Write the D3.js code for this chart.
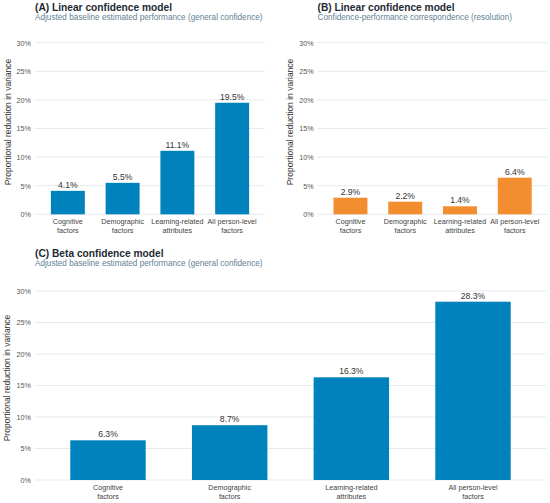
<!DOCTYPE html>
<html><head><meta charset="utf-8">
<script src="https://cdn.jsdelivr.net/npm/d3@7"></script>
<style>
body{margin:0;background:#fff;}
svg{display:block;font-family:"Liberation Sans",Arial,sans-serif;}
</style></head>
<body><svg id="c" width="550" height="503"></svg>
<script>
const categories = [["Cognitive","factors"],["Demographic","factors"],["Learning-related","attributes"],["All person-level","factors"]];
const valuesA = [0.041, 0.055, 0.111, 0.195];
const valuesB = [0.029, 0.022, 0.014, 0.064];
const valuesC = [0.063, 0.087, 0.163, 0.283];
const yTicks = [0, 0.05, 0.10, 0.15, 0.20, 0.25, 0.30];
const titles = ["(A) Linear confidence model","(B) Linear confidence model","(C) Beta confidence model"];
const subtitles = ["Adjusted baseline estimated performance (general confidence)","Confidence-performance correspondence (resolution)","Adjusted baseline estimated performance (general confidence)"];
const yTitle = "Proportional reduction in variance";

const BLUE = "#0083bd", ORANGE = "#f28e30";
const svg = d3.select("#c");

function panel(cfg){
  const g = svg.append("g");
  const x = d3.scaleBand().domain(d3.range(categories.length)).range([cfg.x0, cfg.x1]).paddingInner(0.38).paddingOuter(0.29);
  const y = d3.scaleLinear().domain([0, 0.30]).range([cfg.y0, cfg.y1]);
  // title
  g.append("text").attr("x", cfg.x0).attr("y", cfg.ty).attr("font-size", 10.2).attr("font-weight", "bold").attr("fill", "#1e2a33").text(cfg.title);
  g.append("text").attr("x", cfg.x0).attr("y", cfg.ty + 9).attr("font-size", 8.2).attr("fill", "#5f7f93").text(cfg.subtitle);
  // grid
  g.selectAll(".grid").data(yTicks).join("line")
    .attr("x1", cfg.x0).attr("x2", cfg.x1).attr("y1", d => y(d)).attr("y2", d => y(d))
    .attr("stroke", "#e3e7ec").attr("stroke-width", 0.9);
  // y axis labels
  const ya = d3.axisLeft(y).tickValues(yTicks).tickFormat(d => Math.round(d*100) + "%").tickSize(0).tickPadding(4);
  const yg = g.append("g").attr("transform", `translate(${cfg.x0},0)`).call(ya);
  yg.select(".domain").remove();
  yg.selectAll("text").attr("font-size", 7.2).attr("fill", "#555").attr("font-family", "Liberation Sans, Arial, sans-serif");
  // y title
  g.append("text").attr("transform", `translate(${cfg.yt},${cfg.ytc}) rotate(-90)`).attr("text-anchor", "middle")
    .attr("font-size", 8.5).attr("fill", "#333").text(yTitle);
  // bars
  g.selectAll(".bar").data(cfg.values).join("rect")
    .attr("x", (d,i) => x(i)).attr("width", x.bandwidth())
    .attr("y", d => y(d)).attr("height", d => y(0) - y(d)).attr("fill", cfg.color);
  // value labels
  g.selectAll(".val").data(cfg.values).join("text")
    .attr("x", (d,i) => x(i) + x.bandwidth()/2).attr("y", d => y(d) - 3)
    .attr("text-anchor", "middle").attr("font-size", 8.6).attr("fill", "#333")
    .text(d => (d*100).toFixed(1) + "%");
  // x labels
  const xl = g.selectAll(".xl").data(categories).join("text")
    .attr("text-anchor", "middle").attr("font-size", 7.2).attr("fill", "#444");
  xl.each(function(d,i){
    const t = d3.select(this);
    d.forEach((line, k) => t.append("tspan").attr("x", x(i) + x.bandwidth()/2).attr("y", cfg.y0 + 10 + k*8.5).text(line));
  });
}

panel({x0:35, x1:265, y0:214.3, y1:42.7, ty:11, yt:10.5, ytc:122, title:titles[0], subtitle:subtitles[0], values:valuesA, color:BLUE});
panel({x0:317.6, x1:547.6, y0:214.3, y1:42.7, ty:11, yt:293, ytc:122, title:titles[1], subtitle:subtitles[1], values:valuesB, color:ORANGE});
panel({x0:35, x1:546, y0:480, y1:291, ty:257, yt:10, ytc:378, title:titles[2], subtitle:subtitles[2], values:valuesC, color:BLUE});
</script></body></html>
